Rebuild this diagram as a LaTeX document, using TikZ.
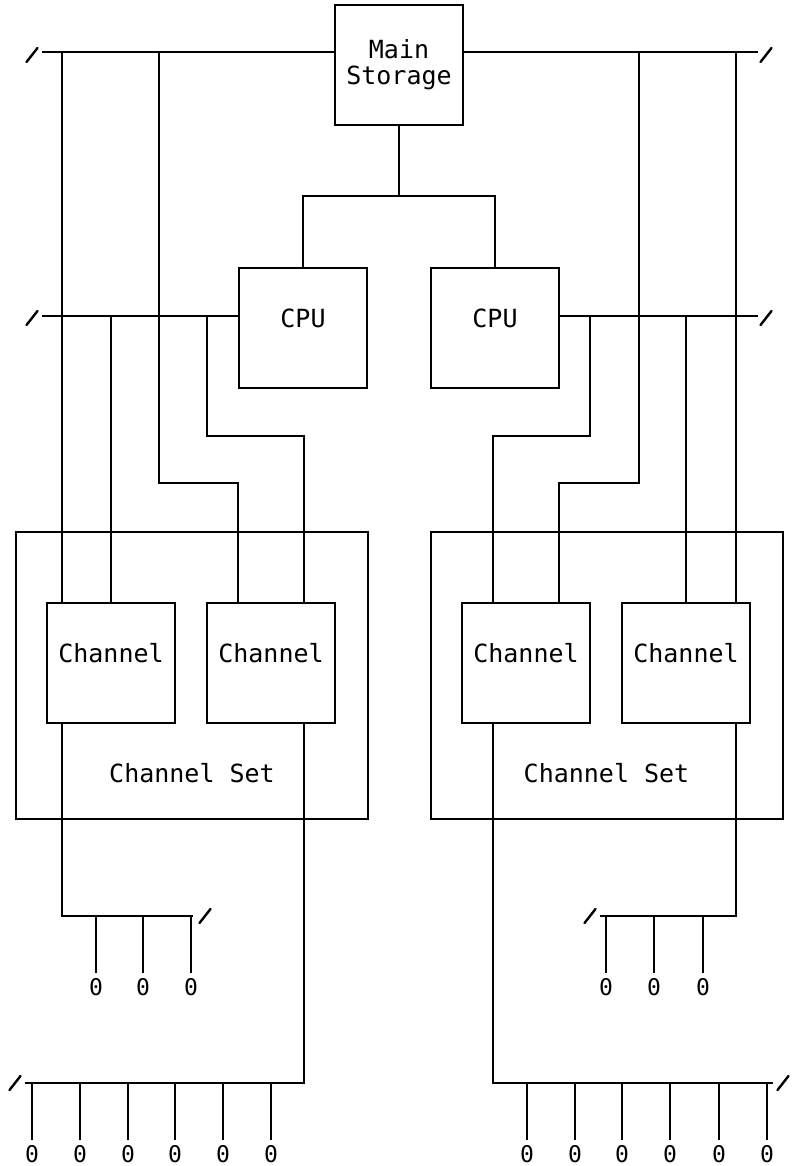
\documentclass[tikz,border=0pt]{standalone}
\usepackage{fontspec}
\setmonofont{DejaVu Sans Mono}
\usetikzlibrary{calc}
\tikzset{
  caja/.style={draw, line width=1pt, minimum width=64pt, minimum height=60pt, inner sep=0pt},
  conj/.style={draw, line width=1pt, minimum width=176pt, minimum height=143.5pt, inner sep=0pt},
  lbl/.style={yshift=5pt},
  term/.style={inner sep=2pt, font=\ttfamily\fontsize{11.5}{12}\selectfont},
  corte/.pic={\draw[line width=1.2pt, line cap=round] (-5.5,7) -- (5.5,-7);}
}
\begin{document}
\begin{tikzpicture}[x=0.5pt, y=-0.5pt, line width=1pt, font=\ttfamily\fontsize{12.5}{13}\selectfont]
\useasboundingbox (0,0) rectangle (793,1166);

% Memoria principal y CPUs
\node[caja, align=center] (ms) at (399,65) {Main\\Storage};
\node[caja, label={[lbl]center:CPU}] (cpuL) at (303,328) {};
\node[caja, label={[lbl]center:CPU}] (cpuR) at (495,328) {};

% Conjuntos de canales
\node[conj, label={[yshift=-48.75pt]center:Channel Set}] (setL) at (192,675.5) {};
\node[conj, label={[yshift=-48.75pt]center:Channel Set}] (setR) at (606.5,675.5) {};
\node[caja, label={[lbl]center:Channel}] (ch1) at (111,663) {};
\node[caja, label={[lbl]center:Channel}] (ch2) at (271,663) {};
\node[caja, label={[lbl]center:Channel}] (ch3) at (526,663) {};
\node[caja, label={[lbl]center:Channel}] (ch4) at (686,663) {};

% Buses
\coordinate (tbL) at (42,52);
\coordinate (tbR) at (758,52);
\coordinate (b2L) at (42,316);
\coordinate (b2R) at (758,316);
\draw (tbL) -- (tbL -| ms.west);
\draw (ms.east |- tbR) -- (tbR);
\draw (b2L) -- (b2L -| cpuL.west);
\draw (cpuR.east |- b2R) -- (b2R);
\pic at ($(tbL)+(-10,3)$) {corte};
\pic at ($(tbR)+(8,3)$) {corte};
\pic at ($(b2L)+(-10,2)$) {corte};
\pic at ($(b2R)+(8,2)$) {corte};

% Memoria -> CPUs
\coordinate (jn) at (399,196);
\draw (ms.south) -- (jn);
\draw (cpuL.north) |- (jn) -| (cpuR.north);

% Entradas de los canales
\coordinate (c1a) at ($(ch1.north west)+(16,0)$);
\coordinate (c2a) at ($(ch2.north west)+(32,0)$);
\coordinate (c2b) at ($(ch2.north east)+(-32,0)$);
\coordinate (c3a) at ($(ch3.north west)+(32,0)$);
\coordinate (c3b) at ($(ch3.north east)+(-32,0)$);
\coordinate (c4b) at ($(ch4.north east)+(-15,0)$);
\coordinate (k1) at (159,483);
\coordinate (k2) at (207,436);
\coordinate (k3) at (590,436);
\coordinate (k4) at (639,483);
\draw (tbL -| c1a) -- (c1a);
\draw (b2L -| ch1.north) -- (ch1.north);
\draw (tbL -| k1) -- (k1) -| (c2a);
\draw (b2L -| k2) -- (k2) -| (c2b);
\draw (b2R -| k3) -- (k3) -| (c3a);
\draw (tbR -| k4) -- (k4) -| (c3b);
\draw (b2R -| ch4.north) -- (ch4.north);
\draw (tbR -| c4b) -- (c4b);

% Salidas de los canales
\coordinate (o1) at ($(ch1.south west)+(16,0)$);
\coordinate (o2) at ($(ch2.south east)+(-32,0)$);
\coordinate (o3) at ($(ch3.south west)+(32,0)$);
\coordinate (o4) at ($(ch4.south east)+(-15,0)$);
\coordinate (sb1) at (193,916);
\coordinate (bb1) at (25,1083);
\coordinate (bb2) at (773,1083);
\coordinate (sb2) at (600,916);
\draw (o1) |- (sb1);
\draw (o2) |- (bb1);
\draw (o3) |- (bb2);
\draw (o4) |- (sb2);
\pic at ($(sb1)+(12,0)$) {corte};
\pic at ($(bb1)+(-10,0)$) {corte};
\pic at ($(bb2)+(10,0)$) {corte};
\pic at ($(sb2)+(-10,0)$) {corte};

% Dispositivos
\foreach \x [count=\i] in {96,143,191} {
  \node[term] (ta\i) at (\x,987) {0};
  \draw (ta\i.north |- sb1) -- (ta\i.north);
}
\foreach \x [count=\i] in {32,80,128,175,223,271} {
  \node[term] (tb\i) at (\x,1154) {0};
  \draw (tb\i.north |- bb1) -- (tb\i.north);
}
\foreach \x [count=\i] in {527,575,622,670,719,767} {
  \node[term] (tc\i) at (\x,1154) {0};
  \draw (tc\i.north |- bb2) -- (tc\i.north);
}
\foreach \x [count=\i] in {606,654,703} {
  \node[term] (td\i) at (\x,987) {0};
  \draw (td\i.north |- sb2) -- (td\i.north);
}
\end{tikzpicture}
\end{document}
